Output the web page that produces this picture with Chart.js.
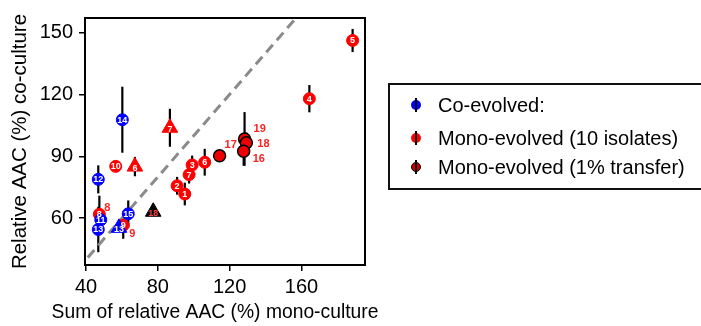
<!DOCTYPE html>
<html>
<head>
<meta charset="utf-8">
<script src="https://cdn.jsdelivr.net/npm/chart.js@4.4.1/dist/chart.umd.min.js"></script>
<style>
  html,body{margin:0;padding:0;background:#fff;}
  #wrap{position:relative;width:701px;height:326px;overflow:hidden;font-family:"Liberation Sans",Arial,sans-serif;}
  #legend{position:absolute;left:388px;top:83px;width:330px;height:107px;border:2px solid #111;box-sizing:border-box;}
  .item{position:absolute;left:0;height:22px;font-size:20px;line-height:22px;color:#000;white-space:nowrap;}
  .mk{position:absolute;left:20px;top:5px;width:12px;height:12px;}
  .mk .c{position:absolute;left:1px;top:1px;width:10px;height:10px;border-radius:50%;}
  .mk .l{position:absolute;left:5px;top:-1px;width:2px;height:14px;background:#000;}
  .txt{position:absolute;left:48px;top:0;}
</style>
</head>
<body>
<div id="wrap">
<canvas id="c" width="701" height="326"></canvas>
<div id="legend">
  <div class="item" style="top:9px"><div class="mk"><div class="c" style="background:#0000ff"></div><div class="l"></div></div><span class="txt">Co-evolved:</span></div>
  <div class="item" style="top:42px"><div class="mk"><div class="c" style="background:#ff0000"></div><div class="l"></div></div><span class="txt">Mono-evolved (10 isolates)</span></div>
  <div class="item" style="top:71px"><div class="mk"><div class="c" style="background:#cc0000;border:1px solid #000;box-sizing:border-box"></div><div class="l"></div></div><span class="txt">Mono-evolved (1% transfer)</span></div>
</div>
</div>
<script>
// ---- data ----
const xTicks = [40, 80, 120, 160];
const yTicks = [60, 90, 120, 150];
const xTitle = 'Sum of relative AAC (%) mono-culture';
const yTitle = 'Relative AAC (%) co-culture';

const coCircleLabels = ['14', '12', '11', '13', '15'];
const coCircleX = [60.2, 46.8, 48.2, 46.8, 63.5];
const coCircleY = [107.7, 78.8, 59.2, 54.5, 62.1];
const coCircleErr = [16, 6.8, 5, 11, 6.5];

const coTriLabels = ['13'];
const coTriX = [58.3];
const coTriY = [55.3];
const coTriErr = [0];

const monoCircleLabels = ['10', '8', '9', '2', '1', '7', '3', '6', '4', '5'];
const monoCircleX = [56.5, 47.4, 60.7, 90.7, 95.0, 97.4, 99.1, 106.1, 164.4, 188.5];
const monoCircleY = [85.1, 61.9, 56.6, 75.7, 71.7, 81.1, 85.8, 87.1, 117.9, 146.1];
const monoCircleErr = [1, 9, 6.6, 4.3, 5.5, 4.3, 4.5, 6.5, 6.6, 5.6];

const monoTriLabels = ['7', '6'];
const monoTriX = [86.7, 67.2];
const monoTriY = [103.8, 85.0];
const monoTriErr = [9.2, 4.7];

const transCircleLabels = ['17', '19', '18', '16'];
const transCircleX = [114.4, 128.3, 129.3, 127.8];
const transCircleY = [90.2, 98.4, 96.5, 92.4];
const transCircleErr = [1, 13, 5, 7];

const transTriLabels = ['18'];
const transTriX = [77.4];
const transTriY = [63.1];
const transTriErr = [0];

// labels drawn outside the marker (pixel offsets are styling)
const outsideLabelOffsets = { '8': [5, -6], '9': [6, 9], '17': [5, -11], '19': [9, -10], '18': [11, 1], '16': [9, 8] };

function pts(xs, ys) { return xs.map((x, i) => ({ x: x, y: ys[i] })); }

const FONT = '"Liberation Sans", Arial, sans-serif';

const errBarPlugin = {
  id: 'errBars',
  beforeDatasetsDraw(chart) {
    const ctx = chart.ctx, xs = chart.scales.x, ys = chart.scales.y;
    ctx.save();
    ctx.strokeStyle = '#000';
    ctx.lineWidth = 2.2;
    chart.data.datasets.forEach(ds => {
      if (!ds.errors) return;
      ds.data.forEach((p, i) => {
        const e = ds.errors[i];
        if (!e) return;
        const px = xs.getPixelForValue(p.x);
        ctx.beginPath();
        ctx.moveTo(px, ys.getPixelForValue(p.y - e));
        ctx.lineTo(px, ys.getPixelForValue(p.y + e));
        ctx.stroke();
      });
    });
    ctx.restore();
  }
};

const labelPlugin = {
  id: 'ptLabels',
  afterDatasetsDraw(chart) {
    const ctx = chart.ctx;
    ctx.save();
    chart.data.datasets.forEach((ds, di) => {
      if (!ds.ptLabels) return;
      const meta = chart.getDatasetMeta(di);
      meta.data.forEach((el, i) => {
        const lab = ds.ptLabels[i];
        const off = ds.outside ? outsideLabelOffsets[lab] : null;
        if (off) {
          ctx.font = 'bold 11px ' + FONT;
          ctx.fillStyle = '#ff2020';
          ctx.textAlign = 'left';
          ctx.textBaseline = 'middle';
          ctx.fillText(lab, el.x + off[0], el.y + off[1]);
        }
        if (ds.inner) {
          ctx.font = 'bold 9px ' + FONT;
          ctx.fillStyle = ds.innerColor || '#fff';
          ctx.textAlign = 'center';
          ctx.textBaseline = 'middle';
          const dy = ds.pointStyle === 'triangle' ? 2 : 0.5;
          ctx.fillText(lab, el.x, el.y + dy);
        }
      });
    });
    ctx.restore();
  }
};

const framePlugin = {
  id: 'frame',
  afterDraw(chart) {
    const a = chart.chartArea, ctx = chart.ctx;
    ctx.save();
    ctx.strokeStyle = '#000';
    ctx.lineWidth = 2;
    ctx.strokeRect(a.left, a.top, a.right - a.left, a.bottom - a.top);
    // axis titles (drawn without width compression)
    ctx.fillStyle = '#000';
    ctx.textAlign = 'center';
    ctx.textBaseline = 'middle';
    ctx.font = '19.3px ' + FONT;
    ctx.fillText(xTitle, (a.left + a.right) / 2 - 10, 313);
    ctx.font = '20.5px ' + FONT;
    ctx.translate(20, (a.top + a.bottom) / 2);
    ctx.rotate(-Math.PI / 2);
    ctx.fillText(yTitle, 0, 0);
    ctx.restore();
  }
};

new Chart(document.getElementById('c'), {
  type: 'scatter',
  data: {
    datasets: [
      { type: 'line', data: [{ x: 0, y: 0 }, { x: 250, y: 250 }], borderColor: '#8a8a8a', borderWidth: 3, borderDash: [10, 6], pointRadius: 0, order: 10 },
      { data: pts(coCircleX, coCircleY), errors: coCircleErr, ptLabels: coCircleLabels, inner: true, pointStyle: 'circle', pointRadius: 6, backgroundColor: '#0000ff', borderColor: '#0000ff', borderWidth: 1, order: 1 },
      { data: pts(coTriX, coTriY), errors: coTriErr, ptLabels: coTriLabels, inner: true, pointStyle: 'triangle', pointRadius: 9, backgroundColor: '#0000ff', borderColor: '#0000ff', borderWidth: 1, order: 0 },
      { data: pts(monoCircleX, monoCircleY), errors: monoCircleErr, ptLabels: monoCircleLabels, inner: true, outside: true, pointStyle: 'circle', pointRadius: 6, backgroundColor: '#ff0000', borderColor: '#ff0000', borderWidth: 1, order: 2 },
      { data: pts(monoTriX, monoTriY), errors: monoTriErr, ptLabels: monoTriLabels, inner: true, pointStyle: 'triangle', pointRadius: 9, backgroundColor: '#ff0000', borderColor: '#ff0000', borderWidth: 1, order: 2 },
      { data: pts(transCircleX, transCircleY), errors: transCircleErr, ptLabels: transCircleLabels, outside: true, pointStyle: 'circle', pointRadius: 6, backgroundColor: '#ee0000', borderColor: '#000', borderWidth: 1.5, order: 2 },
      { data: pts(transTriX, transTriY), errors: transTriErr, ptLabels: transTriLabels, inner: true, innerColor: '#ff4040', pointStyle: 'triangle', pointRadius: 9, backgroundColor: '#000', borderColor: '#000', borderWidth: 1, order: 2 }
    ]
  },
  options: {
    responsive: false,
    animation: false,
    events: [],
    layout: { padding: { top: 10, right: 336, left: 0, bottom: 0 } },
    plugins: { legend: { display: false }, tooltip: { enabled: false } },
    scales: {
      x: {
        type: 'linear', min: 39.4, max: 195.4,
        afterBuildTicks: s => { s.ticks = xTicks.map(v => ({ value: v })); },
        afterFit: s => { s.height = 61; },
        border: { display: false },
        grid: { drawOnChartArea: false, drawTicks: true, tickLength: 6, color: '#000', lineWidth: 1.5 },
        ticks: { color: '#000', font: { family: FONT, size: 20 }, padding: 4, maxRotation: 0 },
        title: { display: false }
      },
      y: {
        type: 'linear', min: 37.3, max: 157.0,
        afterBuildTicks: s => { s.ticks = yTicks.map(v => ({ value: v })); },
        afterFit: s => { s.width = 85; },
        border: { display: false },
        grid: { drawOnChartArea: false, drawTicks: true, tickLength: 6, color: '#000', lineWidth: 1.5 },
        ticks: { color: '#000', font: { family: FONT, size: 20 }, padding: 6 },
        title: { display: false }
      }
    }
  },
  plugins: [errBarPlugin, labelPlugin, framePlugin]
});
</script>
</body>
</html>
